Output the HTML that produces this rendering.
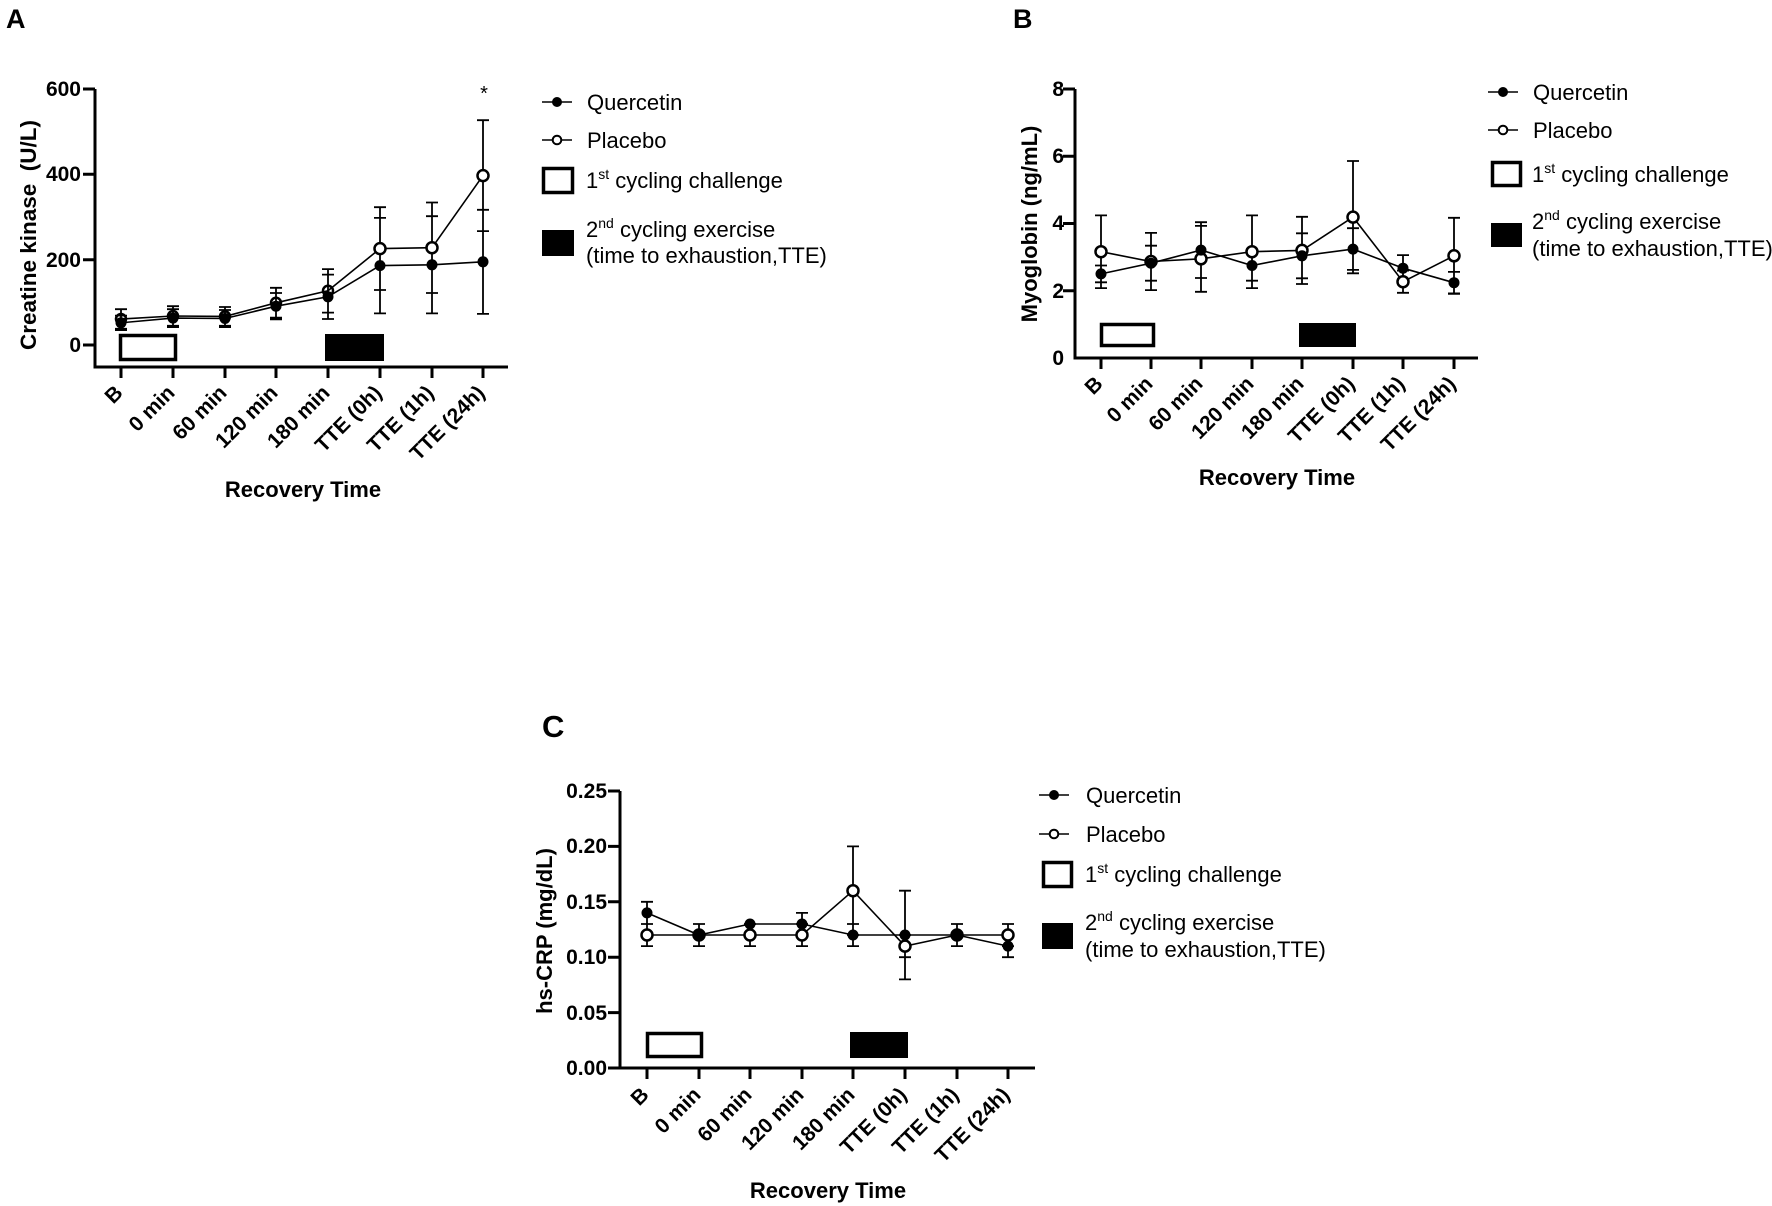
<!DOCTYPE html>
<html><head><meta charset="utf-8"><style>
html,body{margin:0;padding:0;background:#fff;}
svg{display:block;}
text{font-family:"Liberation Sans",Arial,sans-serif;fill:#000;}
.b{font-weight:bold;}
.tk{font-size:21px;font-weight:bold;}
.lg{font-size:22px;}
.ax{fill:none;stroke:#000;stroke-width:3;}
.eb{fill:none;stroke:#000;stroke-width:1.8;}
.ln{fill:none;stroke:#000;stroke-width:1.6;}
</style></head><body>
<svg width="1772" height="1206" viewBox="0 0 1772 1206" xmlns="http://www.w3.org/2000/svg">
<rect width="1772" height="1206" fill="#fff"/>

<!-- ================= PANEL A ================= -->
<text x="6" y="28" class="b" style="font-size:27px">A</text>
<path class="ax" d="M95,89 V367 H508"/>
<path class="ax" d="M83,89H95 M83,174.3H95 M83,259.7H95 M83,345H95"/>
<path class="ax" d="M121,367V378 M173,367V378 M225,367V378 M276,367V378 M328,367V378 M380,367V378 M432,367V378 M483,367V378"/>
<g class="tk" text-anchor="end">
<text x="81" y="96">600</text>
<text x="81" y="181">400</text>
<text x="81" y="267">200</text>
<text x="81" y="352">0</text>
</g>
<g class="tk" text-anchor="end">
<text transform="translate(124,394) rotate(-45)">B</text>
<text transform="translate(176,394) rotate(-45)">0 min</text>
<text transform="translate(228,394) rotate(-45)">60 min</text>
<text transform="translate(279,394) rotate(-45)">120 min</text>
<text transform="translate(331,394) rotate(-45)">180 min</text>
<text transform="translate(383,394) rotate(-45)">TTE (0h)</text>
<text transform="translate(435,394) rotate(-45)">TTE (1h)</text>
<text transform="translate(486,394) rotate(-45)">TTE (24h)</text>
</g>
<text transform="translate(36,235) rotate(-90)" text-anchor="middle" class="b" style="font-size:22.5px">Creatine kinase&#160; (U/L)</text>
<text x="303" y="497" text-anchor="middle" class="b" style="font-size:22px">Recovery Time</text>
<rect x="120.5" y="335.5" width="55" height="24" fill="#fff" stroke="#000" stroke-width="3.5"/>
<rect x="325" y="334" width="59" height="27" fill="#000"/>
<path class="eb" d="
M121,330.1V315.6 M115,330.1H127 M115,315.6H127
M121,328.8V309.2 M115,328.8H127 M115,309.2H127
M173,327.1V309.2 M167,327.1H179 M167,309.2H179
M173,325.8V306.2 M167,325.8H179 M167,306.2H179
M225,327.1V310 M219,327.1H231 M219,310H231
M225,325.8V307 M219,325.8H231 M219,307H231
M276,319.4V293 M270,319.4H282 M270,293H282
M276,317.7V287.8 M270,317.7H282 M270,287.8H282
M328,319V274.6 M322,319H334 M322,274.6H334
M328,312.6V269.1 M322,312.6H334 M322,269.1H334
M380,313.4V217.9 M374,313.4H386 M374,217.9H386
M380,290V207.2 M374,290H386 M374,207.2H386
M432,313.4V216.2 M426,313.4H438 M426,216.2H438
M432,293V202.5 M426,293H438 M426,202.5H438
M483,313.9V209.8 M477,313.9H489 M477,209.8H489
M483,231.1V120.2 M477,231.1H489 M477,120.2H489"/>
<polyline class="ln" points="121,322.8 173,318.1 225,318.5 276,306.2 328,296.8 380,265.6 432,264.8 483,261.8"/>
<polyline class="ln" points="121,319 173,316 225,316.4 276,302.8 328,290.8 380,248.6 432,247.7 483,175.6"/>
<g fill="#000">
<circle cx="121" cy="322.8" r="5.5"/><circle cx="173" cy="318.1" r="5.5"/><circle cx="225" cy="318.5" r="5.5"/><circle cx="276" cy="306.2" r="5.5"/><circle cx="328" cy="296.8" r="5.5"/><circle cx="380" cy="265.6" r="5.5"/><circle cx="432" cy="264.8" r="5.5"/><circle cx="483" cy="261.8" r="5.5"/>
</g>
<g fill="none" stroke="#000" stroke-width="2.5">
<circle cx="121" cy="319" r="5"/><circle cx="173" cy="316" r="5"/><circle cx="225" cy="316.4" r="5"/><circle cx="276" cy="302.8" r="5"/><circle cx="328" cy="290.8" r="5"/>
</g>
<g fill="#fff" stroke="#000" stroke-width="2.5">
<circle cx="380" cy="248.6" r="5.5"/><circle cx="432" cy="247.7" r="5.5"/><circle cx="483" cy="175.6" r="5.5"/>
</g>
<text x="484" y="100" text-anchor="middle" style="font-size:20px">*</text>
<!-- legend A -->
<path class="ln" d="M542,102H572 M542,140H572"/>
<circle cx="557" cy="102" r="5" fill="#000"/>
<circle cx="557" cy="140" r="4.3" fill="#fff" stroke="#000" stroke-width="2"/>
<g class="lg">
<text x="587" y="110">Quercetin</text>
<text x="587" y="148">Placebo</text>
<text x="586" y="188">1<tspan dy="-9" style="font-size:14px">st</tspan><tspan dy="9"> cycling challenge</tspan></text>
<text x="586" y="237">2<tspan dy="-9" style="font-size:14px">nd</tspan><tspan dy="9"> cycling exercise</tspan></text>
<text x="586" y="263">(time to exhaustion,TTE)</text>
</g>
<rect x="543.5" y="168.5" width="29" height="24" fill="#fff" stroke="#000" stroke-width="3.5"/>
<rect x="542" y="230" width="32" height="26" fill="#000"/>

<!-- ================= PANEL B ================= -->
<text x="1013" y="28" class="b" style="font-size:27px">B</text>
<path class="ax" d="M1075,89 V358 H1478"/>
<path class="ax" d="M1063,89H1075 M1063,156.25H1075 M1063,223.5H1075 M1063,290.75H1075"/>
<path class="ax" d="M1101,358V369 M1151,358V369 M1201,358V369 M1252,358V369 M1302,358V369 M1353,358V369 M1403,358V369 M1454,358V369"/>
<g class="tk" text-anchor="end">
<text x="1064" y="96">8</text>
<text x="1064" y="163">6</text>
<text x="1064" y="230">4</text>
<text x="1064" y="298">2</text>
<text x="1064" y="365">0</text>
</g>
<g class="tk" text-anchor="end">
<text transform="translate(1104,385) rotate(-45)">B</text>
<text transform="translate(1154,385) rotate(-45)">0 min</text>
<text transform="translate(1204,385) rotate(-45)">60 min</text>
<text transform="translate(1255,385) rotate(-45)">120 min</text>
<text transform="translate(1305,385) rotate(-45)">180 min</text>
<text transform="translate(1356,385) rotate(-45)">TTE (0h)</text>
<text transform="translate(1406,385) rotate(-45)">TTE (1h)</text>
<text transform="translate(1457,385) rotate(-45)">TTE (24h)</text>
</g>
<text transform="translate(1037,224) rotate(-90)" text-anchor="middle" class="b" style="font-size:22px">Myoglobin (ng/mL)</text>
<text x="1277" y="485" text-anchor="middle" class="b" style="font-size:22px">Recovery Time</text>
<rect x="1101.5" y="324.5" width="52" height="21" fill="#fff" stroke="#000" stroke-width="3.5"/>
<rect x="1299" y="323" width="57" height="24" fill="#000"/>
<path class="eb" d="
M1101,282.3V265.5 M1095,282.3H1107 M1095,265.5H1107
M1101,288.1V215.4 M1095,288.1H1107 M1095,215.4H1107
M1151,280.7V245.7 M1145,280.7H1157 M1145,245.7H1157
M1151,290.1V232.9 M1145,290.1H1157 M1145,232.9H1157
M1201,278V222.2 M1195,278H1207 M1195,222.2H1207
M1201,291.8V225.9 M1195,291.8H1207 M1195,225.9H1207
M1252,280.7V250.4 M1246,280.7H1258 M1246,250.4H1258
M1252,288.1V215.4 M1246,288.1H1258 M1246,215.4H1258
M1302,278.3V233.3 M1296,278.3H1308 M1296,233.3H1308
M1302,284V216.8 M1296,284H1308 M1296,216.8H1308
M1353,269.9V228.2 M1347,269.9H1359 M1347,228.2H1359
M1353,273.3V161 M1347,273.3H1359 M1347,161H1359
M1403,281.3V255.1 M1397,281.3H1409 M1397,255.1H1409
M1403,292.8V270.6 M1397,292.8H1409 M1397,270.6H1409
M1454,293.4V271.9 M1448,293.4H1460 M1448,271.9H1460
M1454,293.8V217.8 M1448,293.8H1460 M1448,217.8H1460"/>
<polyline class="ln" points="1101,273.9 1151,263.2 1201,250.1 1252,265.5 1302,255.8 1353,249.1 1403,268.2 1454,282.7"/>
<polyline class="ln" points="1101,251.7 1151,261.5 1201,258.8 1252,251.7 1302,250.4 1353,217.1 1403,281.7 1454,255.8"/>
<g fill="#fff" stroke="#000" stroke-width="2.5">
<circle cx="1101" cy="251.7" r="5.5"/><circle cx="1151" cy="261.5" r="5.5"/><circle cx="1201" cy="258.8" r="5.5"/><circle cx="1252" cy="251.7" r="5.5"/><circle cx="1302" cy="250.4" r="5.5"/><circle cx="1353" cy="217.1" r="5.5"/><circle cx="1403" cy="281.7" r="5.5"/><circle cx="1454" cy="255.8" r="5.5"/>
</g>
<g fill="#000">
<circle cx="1101" cy="273.9" r="5.5"/><circle cx="1151" cy="263.2" r="5.5"/><circle cx="1201" cy="250.1" r="5.5"/><circle cx="1252" cy="265.5" r="5.5"/><circle cx="1302" cy="255.8" r="5.5"/><circle cx="1353" cy="249.1" r="5.5"/><circle cx="1403" cy="268.2" r="5.5"/><circle cx="1454" cy="282.7" r="5.5"/>
</g>
<!-- legend B -->
<path class="ln" d="M1488,92H1518 M1488,130H1518"/>
<circle cx="1503" cy="92" r="5" fill="#000"/>
<circle cx="1503" cy="130" r="4.3" fill="#fff" stroke="#000" stroke-width="2"/>
<g class="lg">
<text x="1533" y="100">Quercetin</text>
<text x="1533" y="138">Placebo</text>
<text x="1532" y="182">1<tspan dy="-9" style="font-size:14px">st</tspan><tspan dy="9"> cycling challenge</tspan></text>
<text x="1532" y="229">2<tspan dy="-9" style="font-size:14px">nd</tspan><tspan dy="9"> cycling exercise</tspan></text>
<text x="1532" y="256">(time to exhaustion,TTE)</text>
</g>
<rect x="1492.5" y="162.5" width="28" height="23" fill="#fff" stroke="#000" stroke-width="3.5"/>
<rect x="1491" y="223" width="31" height="24" fill="#000"/>

<!-- ================= PANEL C ================= -->
<text x="542" y="737" class="b" style="font-size:31px">C</text>
<path class="ax" d="M620,791 V1068 H1035"/>
<path class="ax" d="M608,791H620 M608,846.4H620 M608,901.8H620 M608,957.2H620 M608,1012.6H620 M608,1068H620"/>
<path class="ax" d="M647,1068V1079 M699,1068V1079 M750,1068V1079 M802,1068V1079 M853,1068V1079 M905,1068V1079 M957,1068V1079 M1008,1068V1079"/>
<g class="tk" text-anchor="end">
<text x="607" y="798">0.25</text>
<text x="607" y="853">0.20</text>
<text x="607" y="909">0.15</text>
<text x="607" y="964">0.10</text>
<text x="607" y="1020">0.05</text>
<text x="607" y="1075">0.00</text>
</g>
<g class="tk" text-anchor="end">
<text transform="translate(650,1096) rotate(-45)">B</text>
<text transform="translate(702,1096) rotate(-45)">0 min</text>
<text transform="translate(753,1096) rotate(-45)">60 min</text>
<text transform="translate(805,1096) rotate(-45)">120 min</text>
<text transform="translate(856,1096) rotate(-45)">180 min</text>
<text transform="translate(908,1096) rotate(-45)">TTE (0h)</text>
<text transform="translate(960,1096) rotate(-45)">TTE (1h)</text>
<text transform="translate(1011,1096) rotate(-45)">TTE (24h)</text>
</g>
<text transform="translate(552,931) rotate(-90)" text-anchor="middle" class="b" style="font-size:22px">hs-CRP (mg/dL)</text>
<text x="828" y="1198" text-anchor="middle" class="b" style="font-size:22px">Recovery Time</text>
<rect x="647.5" y="1033.5" width="54" height="23" fill="#fff" stroke="#000" stroke-width="3.5"/>
<rect x="850" y="1032" width="58" height="26" fill="#000"/>
<path class="eb" d="
M647,924V901.8 M641,924H653 M641,901.8H653
M647,946.1V924 M641,946.1H653 M641,924H653
M699,946.1V924 M693,946.1H705 M693,924H705
M750,946.1V924 M744,946.1H756 M744,924H756
M802,935V912.9 M796,935H808 M796,912.9H808
M802,946.1V924 M796,946.1H808 M796,924H808
M853,946.1V924 M847,946.1H859 M847,924H859
M853,935V846.4 M847,935H859 M847,846.4H859
M905,979.4V890.7 M899,979.4H911 M899,890.7H911
M905,957.2V935 M899,957.2H911 M899,935H911
M957,946.1V924 M951,946.1H963 M951,924H963
M1008,957.2V935 M1002,957.2H1014 M1002,935H1014
M1008,946.1V924 M1002,946.1H1014 M1002,924H1014"/>
<polyline class="ln" points="647,912.9 699,935 750,924 802,924 853,935 905,935 957,935 1008,946.1"/>
<polyline class="ln" points="647,935 699,935 750,935 802,935 853,890.7 905,946.1 957,935 1008,935"/>
<g fill="#000">
<circle cx="647" cy="912.9" r="5.5"/><circle cx="699" cy="935" r="5.5"/><circle cx="750" cy="924" r="5.5"/><circle cx="802" cy="924" r="5.5"/><circle cx="853" cy="935" r="5.5"/><circle cx="905" cy="935" r="5.5"/><circle cx="957" cy="935" r="5.5"/><circle cx="1008" cy="946.1" r="5.5"/>
</g>
<g fill="#fff" stroke="#000" stroke-width="2.5">
<circle cx="647" cy="935" r="5.5"/><circle cx="750" cy="935" r="5.5"/><circle cx="802" cy="935" r="5.5"/><circle cx="853" cy="890.7" r="5.5"/><circle cx="905" cy="946.1" r="5.5"/><circle cx="1008" cy="935" r="5.5"/>
</g>
<g fill="none" stroke="#000" stroke-width="2.5">
<circle cx="699" cy="935" r="5.5"/><circle cx="957" cy="935" r="5.5"/>
</g>
<!-- legend C -->
<path class="ln" d="M1039,795H1069 M1039,834H1069"/>
<circle cx="1054" cy="795" r="5" fill="#000"/>
<circle cx="1054" cy="834" r="4.3" fill="#fff" stroke="#000" stroke-width="2"/>
<g class="lg">
<text x="1086" y="803">Quercetin</text>
<text x="1086" y="842">Placebo</text>
<text x="1085" y="882">1<tspan dy="-9" style="font-size:14px">st</tspan><tspan dy="9"> cycling challenge</tspan></text>
<text x="1085" y="930">2<tspan dy="-9" style="font-size:14px">nd</tspan><tspan dy="9"> cycling exercise</tspan></text>
<text x="1085" y="957">(time to exhaustion,TTE)</text>
</g>
<rect x="1043.5" y="862.5" width="28" height="24" fill="#fff" stroke="#000" stroke-width="3.5"/>
<rect x="1042" y="923" width="31" height="26" fill="#000"/>
</svg>
</body></html>
